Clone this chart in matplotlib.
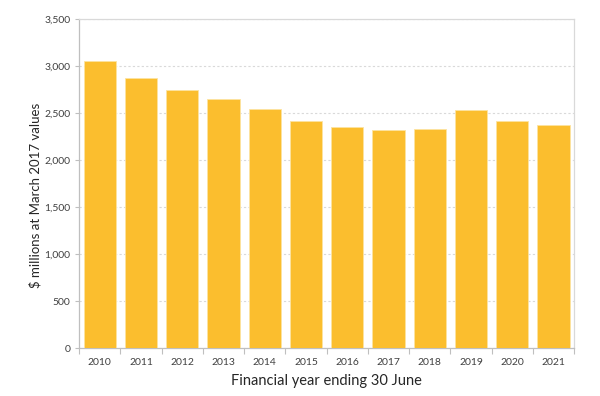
import numpy as np
import matplotlib.pyplot as plt
import matplotlib
from matplotlib.ticker import FuncFormatter

matplotlib.rc('font', family=['Lato', 'DejaVu Sans'])

# data
years = ['2010', '2011', '2012', '2013', '2014', '2015',
         '2016', '2017', '2018', '2019', '2020', '2021']
values = [3055, 2878, 2747, 2646, 2548, 2418, 2354, 2318, 2335, 2537, 2417, 2371]

bar_color = '#FBBE2E'
grid_color = '#d9d9d9'

fig = plt.figure(figsize=(6, 3.96), dpi=100)
ax = fig.add_axes([0.132, 0.1212, 0.825, 0.8301])

x = np.arange(len(years))
ax.bar(x, values, width=0.78, color=bar_color, edgecolor='#fde3a0', linewidth=0.6, zorder=3)

ax.set_xlim(-0.5, len(years) - 0.5)
ax.set_ylim(0, 3500)
ax.set_yticks(np.arange(0, 3501, 500))
ax.yaxis.set_major_formatter(FuncFormatter(lambda v, p: '{:,.0f}'.format(v)))

# category ticks between bars
ax.set_xticks(np.arange(-0.5, len(years), 1.0))
ax.set_xticklabels([])
ax.set_xticks(x, minor=True)
ax.set_xticklabels(years, minor=True)
ax.tick_params(axis='x', which='major', length=4, color='#bfbfbf', direction='out')
ax.tick_params(axis='x', which='minor', length=0, labelsize=7.5, colors='#404040', pad=7)
ax.tick_params(axis='y', length=3, color='#bfbfbf', labelsize=7.5, labelcolor='#404040')

ax.yaxis.grid(True, color=grid_color, linestyle=(0, (2, 2)), linewidth=0.8, zorder=0)
for s in ax.spines.values():
    s.set_color('#d9d9d9')
    s.set_linewidth(0.9)
ax.spines['left'].set_color('#bfbfbf')
ax.spines['bottom'].set_color('#bfbfbf')

ax.set_xlabel('Financial year ending 30 June', fontsize=10.5, color='#262626', labelpad=5)
ax.set_ylabel('$ millions at March 2017 values', fontsize=9.5, color='#262626',
              va='center')
ax.yaxis.set_label_coords(-0.089, 0.465)

plt.savefig('out.png', dpi=100)
